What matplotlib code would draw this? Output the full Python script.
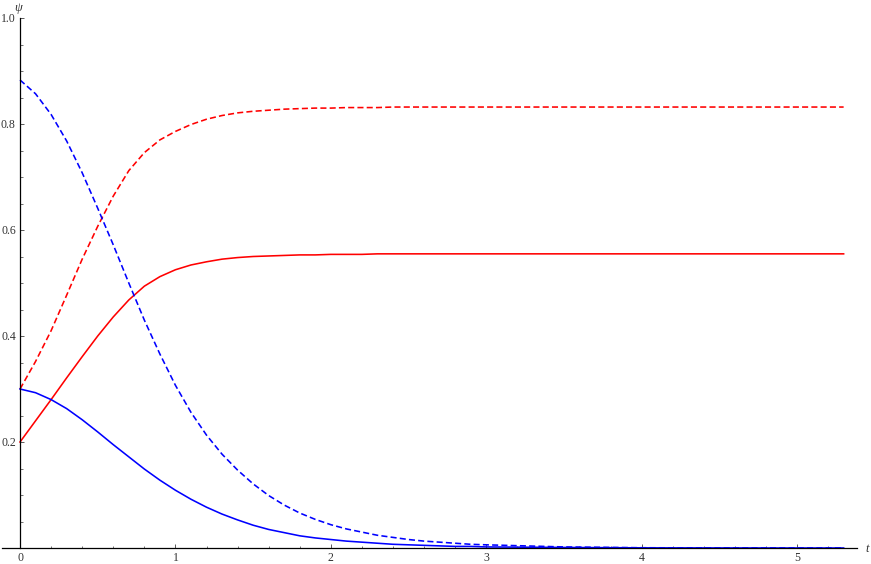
import matplotlib
matplotlib.use("Agg")
import matplotlib.pyplot as plt
from matplotlib.ticker import MultipleLocator, FixedLocator

t = [0.0, 0.1, 0.2, 0.3, 0.4, 0.5, 0.6, 0.7, 0.8, 0.9, 1.0, 1.1, 1.2, 1.3, 1.4,
     1.5, 1.6, 1.7, 1.8, 1.9, 2.0, 2.1, 2.2, 2.3, 2.4, 2.5, 2.6, 2.7, 2.8, 2.9,
     3.0, 3.5, 4.0, 4.5, 5.0, 5.3]

red_solid = [0.200, 0.240, 0.280, 0.321, 0.361, 0.400, 0.436, 0.468, 0.494, 0.512,
             0.525, 0.534, 0.540, 0.545, 0.548, 0.550, 0.551, 0.552, 0.553, 0.553,
             0.554, 0.554, 0.554, 0.555, 0.555, 0.555, 0.555, 0.555, 0.555, 0.555,
             0.555, 0.555, 0.555, 0.555, 0.555, 0.555]

red_dashed = [0.300, 0.352, 0.410, 0.477, 0.545, 0.607, 0.664, 0.712, 0.746, 0.770,
              0.786, 0.799, 0.809, 0.816, 0.821, 0.824, 0.826, 0.828, 0.829, 0.830,
              0.830, 0.831, 0.831, 0.831, 0.832, 0.832, 0.832, 0.832, 0.832, 0.832,
              0.832, 0.832, 0.832, 0.832, 0.832, 0.832]

blue_dashed = [0.883, 0.857, 0.818, 0.768, 0.708, 0.641, 0.572, 0.500, 0.430, 0.366,
               0.307, 0.256, 0.213, 0.177, 0.147, 0.121, 0.099, 0.081, 0.066, 0.054,
               0.044, 0.036, 0.030, 0.024, 0.020, 0.016, 0.013, 0.011, 0.009, 0.007,
               0.006, 0.002, 0.0005, 0.0001, 0.0, 0.0]

blue_solid = [0.300, 0.293, 0.280, 0.263, 0.242, 0.219, 0.195, 0.172, 0.149, 0.128,
              0.109, 0.092, 0.077, 0.064, 0.053, 0.043, 0.035, 0.029, 0.023, 0.019,
              0.016, 0.013, 0.011, 0.009, 0.007, 0.006, 0.005, 0.004, 0.003, 0.003,
              0.002, 0.001, 0.0003, 0.0001, 0.0, 0.0]

x_ticks = [0, 1, 2, 3, 4, 5]
x_tick_labels = ["0", "1", "2", "3", "4", "5"]
y_ticks = [0.2, 0.4, 0.6, 0.8, 1.0]
y_tick_labels = ["0.2", "0.4", "0.6", "0.8", "1.0"]

W, H = 871, 564
fig = plt.figure(figsize=(W / 100, H / 100), dpi=100)
ax = fig.add_axes([2 / W, (H - 548) / H, 855 / W, 530 / H])

lw = 1.15
dash = (3.8, 2.0)
ax.plot(t, red_solid, color=(1, 0, 0), lw=lw)
ax.plot(t, red_dashed, color=(1, 0, 0), lw=lw, linestyle=(0, dash))
ax.plot(t, blue_solid, color=(0, 0, 1), lw=lw)
ax.plot(t, blue_dashed, color=(0, 0, 1), lw=lw, linestyle=(0, dash))

ax.set_xlim(-0.116, 5.386)
ax.set_ylim(0, 1.0)

for s in ("top", "right"):
    ax.spines[s].set_visible(False)
ax.spines["left"].set_position(("data", 0))
ax.spines["bottom"].set_position(("data", 0))
for s in ("left", "bottom"):
    ax.spines[s].set_linewidth(0.9)
    ax.spines[s].set_color("black")

ax.xaxis.set_major_locator(FixedLocator(x_ticks))
ax.set_xticklabels(x_tick_labels)
ax.xaxis.set_minor_locator(MultipleLocator(0.2))
ax.yaxis.set_major_locator(FixedLocator(y_ticks))
ax.set_yticklabels(y_tick_labels)
ax.yaxis.set_minor_locator(MultipleLocator(0.05))

font = "Liberation Serif"
ax.tick_params(which="both", direction="in", colors="0.35", labelcolor="0.2")
ax.tick_params(which="major", length=3.2, width=0.7, labelsize=8.5)
ax.tick_params(which="minor", length=1.8, width=0.6)
ax.tick_params(axis="x", pad=3)
ax.tick_params(axis="y", pad=3)
for lab in ax.get_xticklabels() + ax.get_yticklabels():
    lab.set_fontfamily(font)

fig.text(18 / W, 1 - 8 / H, "ψ", fontsize=9, style="italic", family=font,
         ha="center", va="center", color="0.2")
fig.text(867 / W, 1 - 549 / H, "t", fontsize=9, style="italic", family=font,
         ha="center", va="center", color="0.2")

fig.savefig("out.png", dpi=100)
